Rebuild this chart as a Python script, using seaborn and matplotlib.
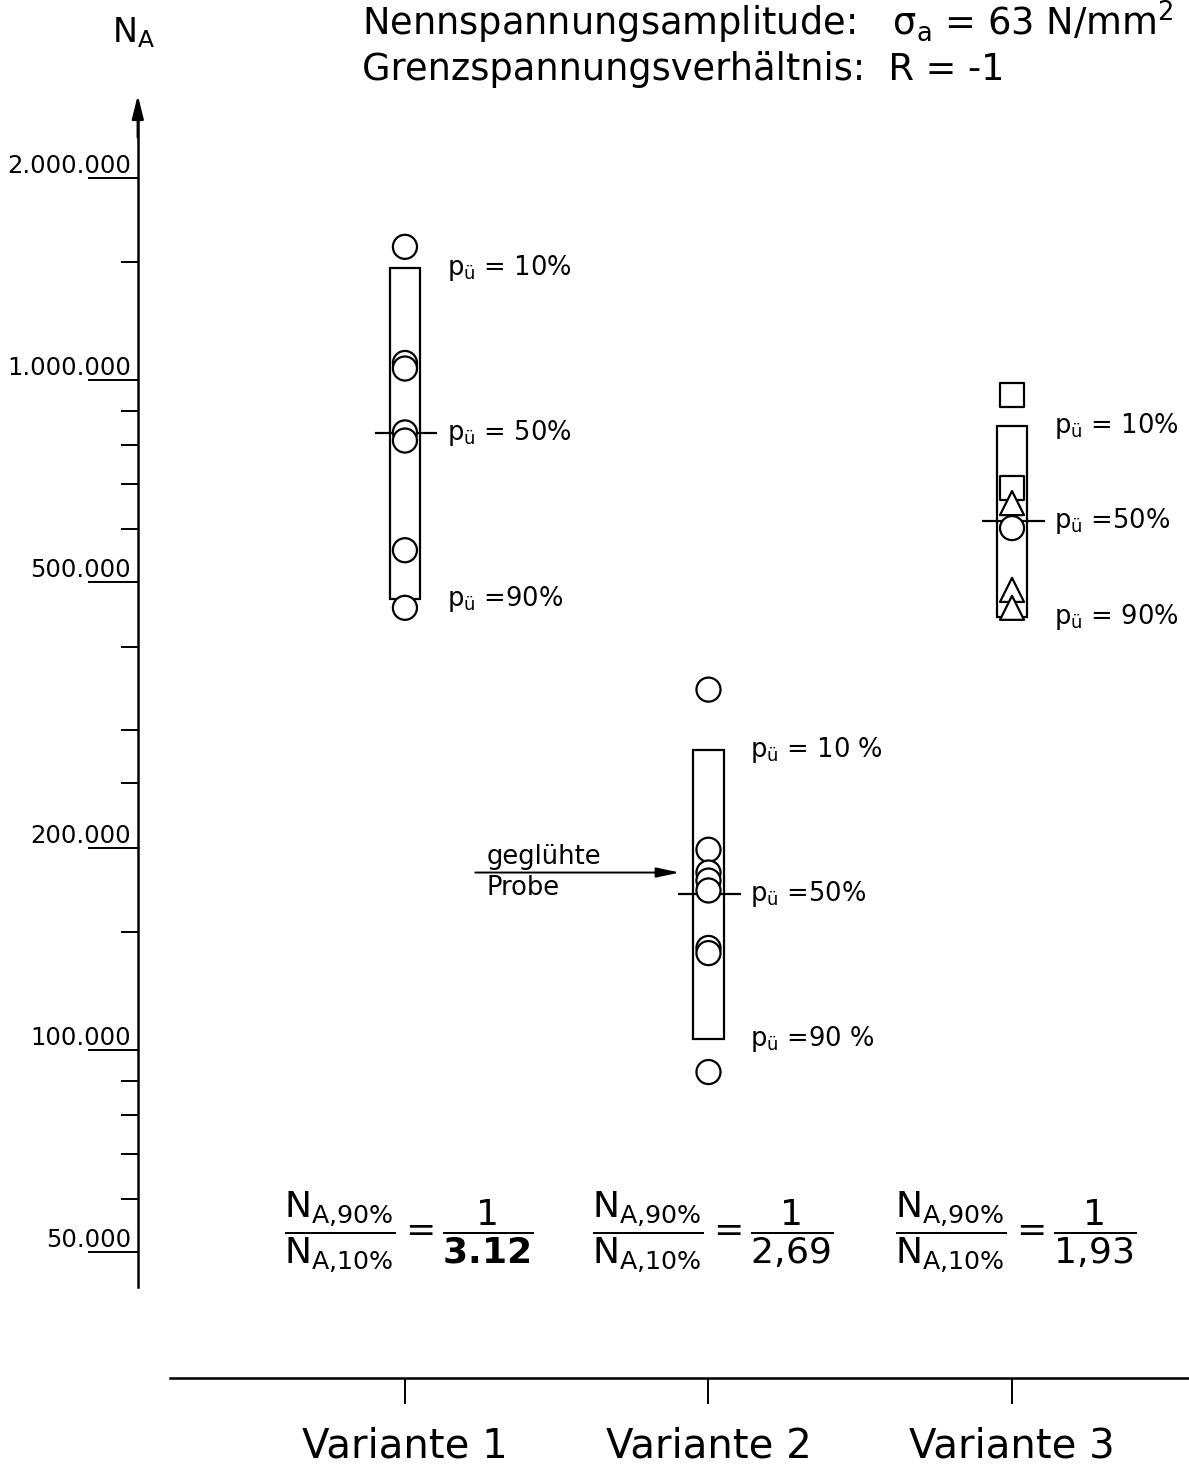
import numpy as np
import pandas as pd
import matplotlib.pyplot as plt
import seaborn as sns


varianten = ['Variante 1', 'Variante 2', 'Variante 3']
n_10 = [1470000, 280000, 855000]
n_50 = [832000, 171000, 615000]
n_90 = [471000, 104000, 443000]
verhaeltnis = ['\\mathbf{3.12}', '2{,}69', '1{,}93']

lab_10 = ['= 10%', '= 10 %', '= 10%']
lab_50 = ['= 50%', '=50%', '=50%']
lab_90 = ['=90%', '=90 %', '= 90%']

# einzelne Versuchsergebnisse
v1_n = [1580000, 1060000, 1040000, 835000, 812000, 557000, 457000]
v2_n = [345000, 199000, 184000, 179000, 173000, 142000, 139500, 92700]
v3_n = [950000, 690000, 655000, 601000, 486000, 457000]
v3_form = ['Quadrat', 'Quadrat', 'Dreieck', 'Kreis', 'Dreieck', 'Dreieck']

major_ticks = [50000, 100000, 200000, 500000, 1000000, 2000000]
minor_ticks = [60000, 70000, 80000, 90000, 150000, 250000, 300000, 400000,
               600000, 700000, 800000, 900000, 1500000]

geglueht_n = 184000


sns.set_style('white')
plt.rcParams['font.family'] = ['DejaVu Sans']
plt.rcParams['mathtext.default'] = 'regular'
plt.rcParams['mathtext.fontset'] = 'dejavusans'
plt.rcParams['text.color'] = 'black'
plt.rcParams['xtick.color'] = 'black'
plt.rcParams['ytick.color'] = 'black'

fig, ax = plt.subplots(figsize=(11.89, 14.66), dpi=100)
ax.set_position([0, 0, 1, 1])
ax.set_yscale('log')

punkte = pd.DataFrame({
    'variante': [0] * len(v1_n) + [1] * len(v2_n) + [2] * len(v3_n),
    'N': v1_n + v2_n + v3_n,
    'form': ['Kreis'] * (len(v1_n) + len(v2_n)) + v3_form,
})

xs = np.arange(len(varianten))

# Streubaender 10% .. 90%
ax.bar(xs, np.array(n_10) - np.array(n_90), bottom=n_90, width=0.1,
       facecolor='white', edgecolor='black', linewidth=1.6, zorder=2)
ax.hlines(n_50, xs - 0.1, xs + 0.107, color='black', linewidth=1.6, zorder=3)

sns.scatterplot(data=punkte, x='variante', y='N', style='form',
                markers={'Kreis': 'o', 'Quadrat': 's', 'Dreieck': '^'},
                s=300, color='white', edgecolor='black', linewidth=1.6,
                legend=False, ax=ax, zorder=5)

for i in range(len(varianten)):
    ax.text(i + 0.138, n_10[i], r'$p_{ü}$ ' + lab_10[i], fontsize=18.5, va='center', ha='left')
    ax.text(i + 0.138, n_50[i], r'$p_{ü}$ ' + lab_50[i], fontsize=18.5, va='center', ha='left')
    ax.text(i + 0.138, n_90[i], r'$p_{ü}$ ' + lab_90[i], fontsize=18.5, va='center', ha='left')
    ax.text(i + 0.013, 53500,
            r'$\dfrac{N_{A{,}90\%}}{N_{A{,}10\%}} = \dfrac{1}{' + verhaeltnis[i] + '}$',
            fontsize=26, ha='center', va='center')

# geglühte Probe
ax.annotate('', xy=(0.905, geglueht_n), xytext=(0.232, geglueht_n),
            arrowprops=dict(arrowstyle='-|>,head_length=1.4,head_width=0.3',
                            color='black', lw=1.4, shrinkA=0, shrinkB=0))
ax.text(0.27, geglueht_n * 1.01, 'geglühte', fontsize=18.5, va='bottom', ha='left')
ax.text(0.27, geglueht_n * 0.99, 'Probe', fontsize=18.5, va='top', ha='left')

ax.set_xlim(-1.334, 2.583)
ax.set_ylim(23940, 3.69e6)

# y-Achse
ax.spines['left'].set_position(('data', -0.88))
ax.spines['left'].set_bounds(44300, 2550000)
ax.spines['bottom'].set_position(('data', 32400))
ax.spines['bottom'].set_bounds(-0.774, 2.583)
for s in ['left', 'bottom']:
    ax.spines[s].set_color('black')
    ax.spines[s].set_linewidth(1.8)
ax.spines['top'].set_visible(False)
ax.spines['right'].set_visible(False)

ax.annotate('', xy=(-0.88, 2.66e6), xytext=(-0.88, 2.3e6),
            arrowprops=dict(arrowstyle='-|>,head_length=1.4,head_width=0.35',
                            color='black', lw=1.8, shrinkA=0, shrinkB=0))

ax.set_yticks(major_ticks,
              labels=[f'{v:,}'.replace(',', '.') for v in major_ticks])
ax.set_yticks(minor_ticks, minor=True)
ax.yaxis.set_minor_formatter(plt.NullFormatter())
ax.tick_params(axis='y', which='major', left=True, length=36, width=1.4,
               color='black', pad=-31, labelsize=17.5, direction='out')
ax.tick_params(axis='y', which='minor', left=True, length=12, width=1.4,
               color='black', direction='out')
for lab in ax.get_yticklabels():
    lab.set_va('bottom')

ax.set_xticks(xs, labels=varianten)
ax.tick_params(axis='x', which='major', bottom=True, length=19, width=1.4,
               color='black', pad=16, labelsize=29, direction='out')
ax.set_xlabel('')
ax.set_ylabel('')

fig.text(112 / 1189, 1 - 33 / 1466, r'N$_A$', fontsize=24, va='center', ha='left')
fig.text(362 / 1189, 1 - 22 / 1466,
         r'Nennspannungsamplitude:   $\sigma_a$ = 63 N/mm$^2$',
         fontsize=26.5, va='center', ha='left')
fig.text(362 / 1189, 1 - 70 / 1466, 'Grenzspannungsverhältnis:  R = -1',
         fontsize=26.5, va='center', ha='left')

plt.savefig('out.png', dpi=100)
plt.close()
